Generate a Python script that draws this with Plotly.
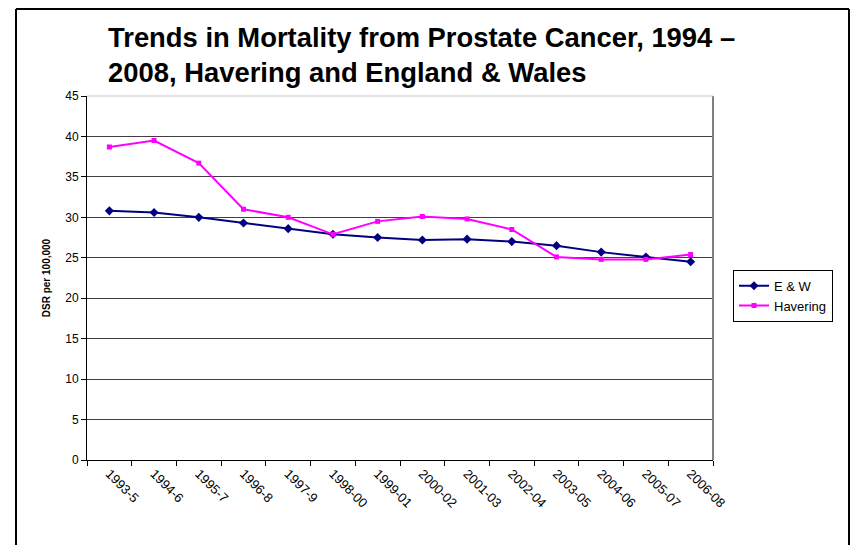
import plotly.graph_objects as go

categories = ["1993-5", "1994-6", "1995-7", "1996-8", "1997-9", "1998-00", "1999-01",
              "2000-02", "2001-03", "2002-04", "2003-05", "2004-06", "2005-07", "2006-08"]
ew_values = [30.8, 30.6, 30.0, 29.3, 28.6, 27.9, 27.5, 27.2, 27.3, 27.0, 26.5, 25.7, 25.1, 24.5]
havering_values = [38.7, 39.5, 36.7, 31.0, 30.0, 27.9, 29.5, 30.1, 29.8, 28.5, 25.1, 24.8, 24.8, 25.4]
y_ticks = [0, 5, 10, 15, 20, 25, 30, 35, 40, 45]
title_lines = ["Trends in Mortality from Prostate Cancer, 1994 –",
               "2008, Havering and England &amp; Wales"]

# page body has an 8px margin, so the figure is drawn 8px in from the window corner
OFF = 8
W, H = 862 - OFF, 545 - OFF
L, R, T, B = 87 - OFF, 713 - OFF, 96 - OFF, 460.5 - OFF


def px_x(p):
    return (p - OFF - L) / (R - L)


def px_y(p):
    return (B - (p - OFF)) / (B - T)


fig = go.Figure()
fig.add_trace(go.Scatter(
    x=categories, y=ew_values, name="E & W", mode="lines+markers",
    line=dict(color="#000080", width=2),
    marker=dict(symbol="diamond", size=7, color="#000080"),
))
fig.add_trace(go.Scatter(
    x=categories, y=havering_values, name="Havering", mode="lines+markers",
    line=dict(color="#FF00FF", width=2),
    marker=dict(symbol="square", size=5, color="#FF00FF"),
))

shapes = [
    dict(type="line", xref="paper", yref="paper", x0=px_x(16), x1=px_x(16), y0=px_y(560), y1=px_y(9),
         line=dict(color="black", width=2)),
    dict(type="line", xref="paper", yref="paper", x0=px_x(16), x1=px_x(849), y0=px_y(9), y1=px_y(9),
         line=dict(color="black", width=2)),
    dict(type="line", xref="paper", yref="paper", x0=px_x(849), x1=px_x(849), y0=px_y(9), y1=px_y(560),
         line=dict(color="black", width=2)),
    dict(type="line", xref="paper", yref="paper", x0=1, x1=1, y0=0, y1=1,
         line=dict(color="#808080", width=2)),
    dict(type="line", xref="paper", yref="paper", x0=0, x1=1, y0=1, y1=1,
         line=dict(color="#c8c8c8", width=1)),
]

annotations = [
    dict(text="<b>" + title_lines[0] + "</b>", xref="paper", yref="paper",
         x=px_x(106), y=px_y(37), xanchor="left", yanchor="middle", showarrow=False,
         font=dict(size=27.4, color="black")),
    dict(text="<b>" + title_lines[1] + "</b>", xref="paper", yref="paper",
         x=px_x(106), y=px_y(72), xanchor="left", yanchor="middle", showarrow=False,
         font=dict(size=27.4, color="black")),
]

fig.update_layout(
    width=W, height=H,
    margin=dict(l=L, r=W - R, t=T, b=H - B),
    paper_bgcolor="white", plot_bgcolor="white",
    font=dict(family="Liberation Sans, Arial, sans-serif", color="black", size=12),
    showlegend=True,
    legend=dict(
        x=px_x(733), y=px_y(270), xanchor="left", yanchor="top",
        bordercolor="black", borderwidth=1, bgcolor="white",
        font=dict(size=13), tracegroupgap=0, itemwidth=30,
    ),
    xaxis=dict(
        type="category", tickangle=45, showgrid=False,
        showline=True, linecolor="black", linewidth=1,
        ticks="outside", ticklen=5, tickcolor="black",
        tickson="boundaries", tickfont=dict(size=13),
        range=[-0.5, len(categories) - 0.5],
    ),
    yaxis=dict(
        range=[0, 45], tickvals=y_ticks, showgrid=True, gridcolor="#404040", gridwidth=1,
        showline=True, linecolor="black", linewidth=1,
        ticks="outside", ticklen=5, tickcolor="black", tickfont=dict(size=12),
        zeroline=False,
        title=dict(text="<b>DSR per 100,000</b>", font=dict(size=10), standoff=12),
    ),
    shapes=shapes,
    annotations=annotations,
)

fig.write_html("out.html")
